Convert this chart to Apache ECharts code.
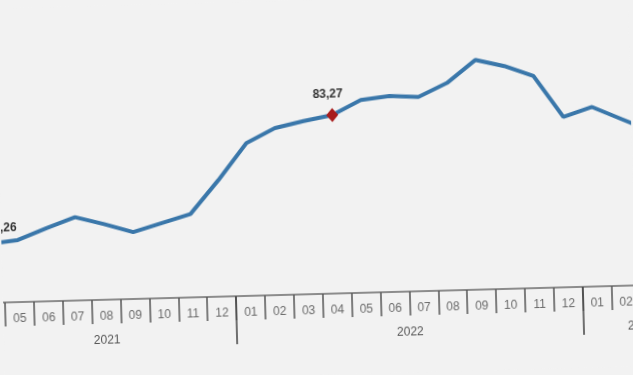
<!DOCTYPE html>
<html>
<head>
<meta charset="utf-8">
<script src="https://cdn.jsdelivr.net/npm/echarts@6/dist/echarts.min.js"></script>
<style>
  html, body { margin: 0; padding: 0; background: #f2f2f2; overflow: hidden; }
  #chart { width: 633px; height: 375px; transform: rotate(-1.55deg); transform-origin: 50% 50%; }
</style>
</head>
<body>
<div id="chart"></div>
<script>
// Months shown on the axis (YYYY-MM)
const months = ['2021-04','2021-05','2021-06','2021-07','2021-08','2021-09','2021-10','2021-11','2021-12',
  '2022-01','2022-02','2022-03','2022-04','2022-05','2022-06','2022-07','2022-08','2022-09','2022-10','2022-11','2022-12',
  '2023-01','2023-02','2023-03','2023-04'];
// Index values
const values = [64.26, 64.78, 66.55, 68.17, 66.94, 65.55, 66.86, 68.16, 73.44,
  79.19, 81.44, 82.43, 83.27, 85.52, 86.03, 85.76, 87.86, 91.39, 90.30, 88.60, 81.97,
  83.43, 81.40, 79.37, 78.50];
// Points carrying a value label and marker
const labeledMonths = ['2021-04', '2022-04', '2023-04'];

const fmt = v => v.toFixed(2).replace('.', ',');

// Year groups derived from months
const years = [];
months.forEach((m, i) => {
  const y = m.slice(0, 4);
  let g = years.find(o => o.year === y);
  if (!g) { g = { year: y, first: i, last: i }; years.push(g); }
  g.last = i;
});
years.forEach(g => g.center = (g.first + g.last) / 2);

const seriesData = values.map((v, i) => {
  const labeled = labeledMonths.includes(months[i]);
  if (!labeled) return { value: v, symbol: 'none' };
  return {
    value: v,
    symbol: 'diamond',
    symbolSize: [12, 14],
    itemStyle: { color: '#a81c1c' },
    label: {
      show: true,
      position: 'top',
      distance: 8,
      offset: i === 0 ? [13, 5] : [-4, 0],
      formatter: p => fmt(p.value),
      color: '#333',
      fontSize: 12,
      fontWeight: 'bold',
      fontFamily: 'Liberation Sans, Arial, sans-serif'
    }
  };
});

const chart = echarts.init(document.getElementById('chart'), null, { renderer: 'canvas' });
const n = months.length;
chart.setOption({
  backgroundColor: '#f2f2f2',
  animation: false,
  grid: { left: -26.8, top: 40, width: n * 28.88, height: 254, outerBoundsMode: 'none', containLabel: false },
  xAxis: [
    {
      type: 'category',
      data: months,
      boundaryGap: true,
      position: 'bottom',
      axisLine: { show: true, lineStyle: { color: '#6a6a6a', width: 1.5 } },
      axisTick: { show: true, interval: 0, length: 24, lineStyle: { color: '#555', width: 1.5 } },
      axisLabel: {
        interval: 0, margin: 11, color: '#6a6a6a', fontSize: 12,
        fontFamily: 'Liberation Sans, Arial, sans-serif',
        formatter: v => v.slice(5)
      },
      splitLine: { show: false }
    },
    {
      type: 'category',
      data: months,
      boundaryGap: true,
      position: 'bottom',
      axisLine: { show: false },
      axisTick: { show: true, length: 48, interval: (i, v) => v.slice(5) === '01', lineStyle: { color: '#444', width: 1.5 } },
      axisLabel: { show: false },
      splitLine: { show: false }
    },
    {
      type: 'value',
      min: -0.5,
      max: n - 0.5,
      interval: 0.5,
      position: 'bottom',
      axisLine: { show: false },
      axisTick: { show: false },
      splitLine: { show: false },
      axisLabel: {
        margin: 35, color: '#555', fontSize: 12,
        fontFamily: 'Liberation Sans, Arial, sans-serif',
        showMinLabel: true, showMaxLabel: true,
        formatter: v => { const g = years.find(o => Math.abs(o.center - v) < 1e-6); return g ? g.year : ''; }
      }
    }
  ],
  yAxis: { type: 'value', min: 54.93, max: 95.25, show: false, splitLine: { show: false } },
  series: [{
    type: 'line',
    xAxisIndex: 0,
    data: seriesData,
    showSymbol: true,
    lineStyle: { color: '#3a77aa', width: 4 },
    itemStyle: { color: '#3a77aa' },
    clip: false
  }]
});
</script>
</body>
</html>
